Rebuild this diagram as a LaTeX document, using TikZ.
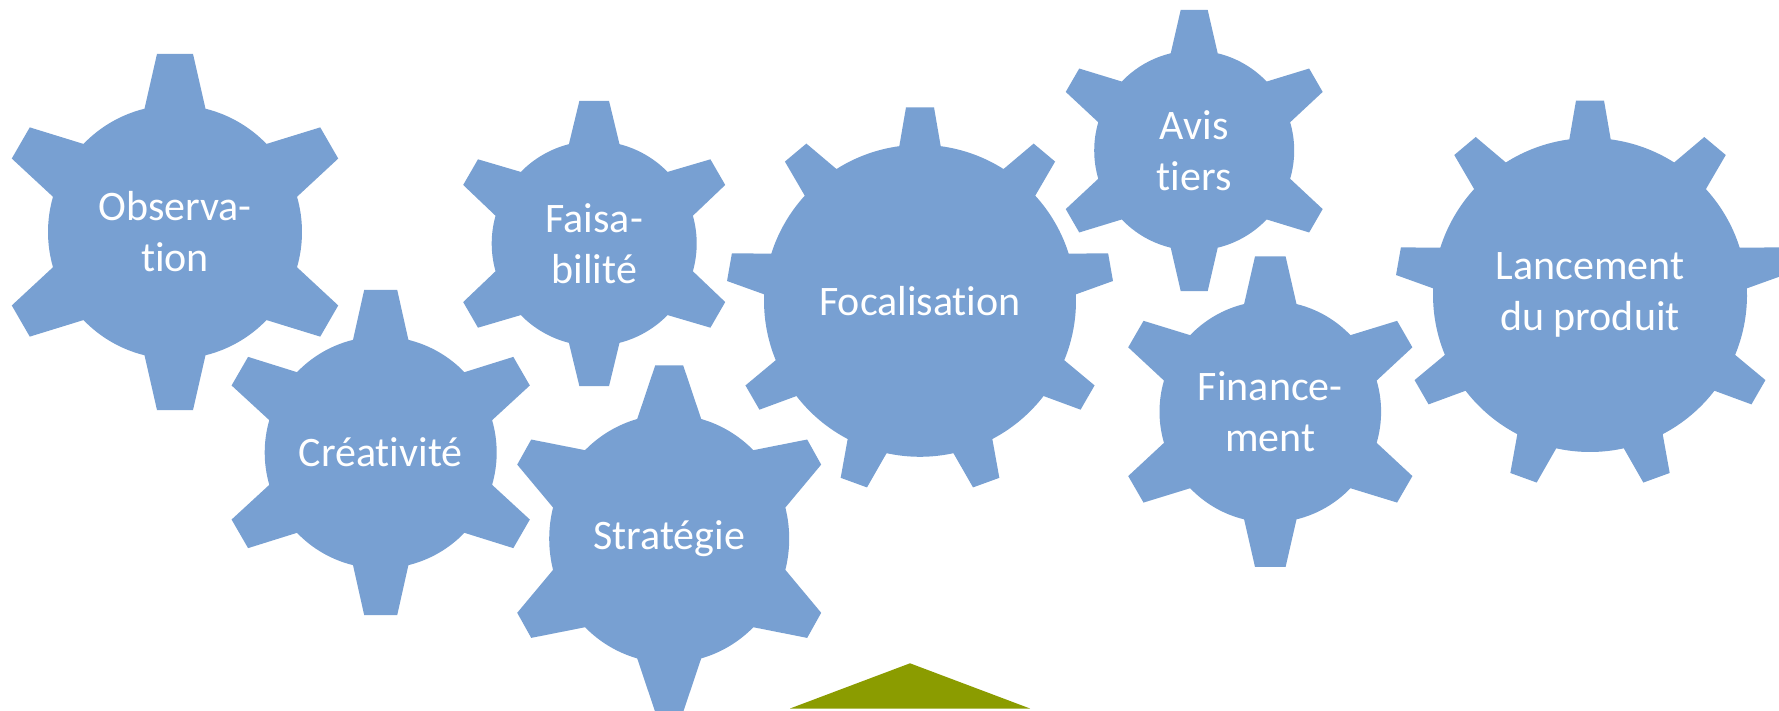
\documentclass[tikz,border=0pt]{standalone}
\usepackage{fontspec}
\setmainfont{Carlito}[Ligatures=NoCommon]
\definecolor{gearblue}{RGB}{120,160,210}
\definecolor{olivetri}{RGB}{139,156,0}
\tikzset{
  gearfill/.style={fill=gearblue},
  lbl/.style={text=white, align=center, inner sep=0pt, font=\fontsize{42}{51}\selectfont}
}
% #1 cx, #2 cy (pixel row), #3 teeth, #4 first tooth angle, #5 R, #6 Ro, #7 tip half width, #8 base half width, #9 yscale
\newcommand{\mygear}[9]{%
  \pgfmathsetmacro\gb{asin(#8/#5)}%
  \pgfmathsetmacro\gt{asin(#7/#6)}%
  \pgfmathsetmacro\gs{360/#3}%
  \pgfmathtruncatemacro\gn{#3-1}%
  \fill[gearfill,shift={(#1,-#2)},yscale=#9] ({#4-\gb}:#5)
    \foreach \i in {0,...,\gn}{
      -- ({#4+\i*\gs-\gb}:#5) -- ({#4+\i*\gs-\gt}:#6) -- ({#4+\i*\gs+\gt}:#6) -- ({#4+\i*\gs+\gb}:#5)
      arc[start angle={#4+\i*\gs+\gb}, end angle={#4+(\i+1)*\gs-\gb}, radius=#5]
    } -- cycle;
}
\begin{document}
\begin{tikzpicture}[x=1pt,y=1pt]
\fill[white] (0,0) rectangle (1779,-711);
\useasboundingbox (0,0) rectangle (1779,-711);
\begin{scope}
\clip (0,0) rectangle (1779,-711);
\mygear{175}{232}{6}{90}{127}{179}{18}{30.5}{1}
\mygear{380.7}{452.5}{6}{90}{116}{163.5}{16.5}{27.7}{1}
\mygear{594.2}{243.5}{6}{90}{102.5}{143.5}{14.8}{25.3}{1}
\mygear{669.2}{538.7}{6}{90}{120}{168}{14}{32}{1.035}
\mygear{920}{300.8}{9}{90}{156}{194}{14}{20.7}{1}
\mygear{1194.2}{150.5}{6}{90}{100}{141.2}{13.5}{23.5}{1}
\mygear{1270.3}{411.7}{6}{90}{110.8}{156}{15.3}{26.2}{1}
\mygear{1590}{295}{9}{90}{157}{195}{14}{20.7}{1}
\fill[olivetri] (790,-708.5) -- (910,-663.3) -- (1030,-708.5) -- cycle;
\end{scope}
\node[lbl] (obs) at (175,-232) {Observa-\\tion};
\node[lbl] (cre) at (380.7,-452.5) {Créativité};
\node[lbl] (fai) at (594.2,-243.5) {Faisa-\\bilité};
\node[lbl] (str) at (669.2,-538.7) {Stratégie};
\node[lbl] (foc) at (920,-300.8) {Focalisation};
\node[lbl] (avi) at (1194.2,-150.5) {Avis\\tiers};
\node[lbl] (fin) at (1270.3,-411.7) {Finance-\\ment};
\node[lbl] (lan) at (1590,-295) {Lancement\\du produit};
\end{tikzpicture}
\end{document}
